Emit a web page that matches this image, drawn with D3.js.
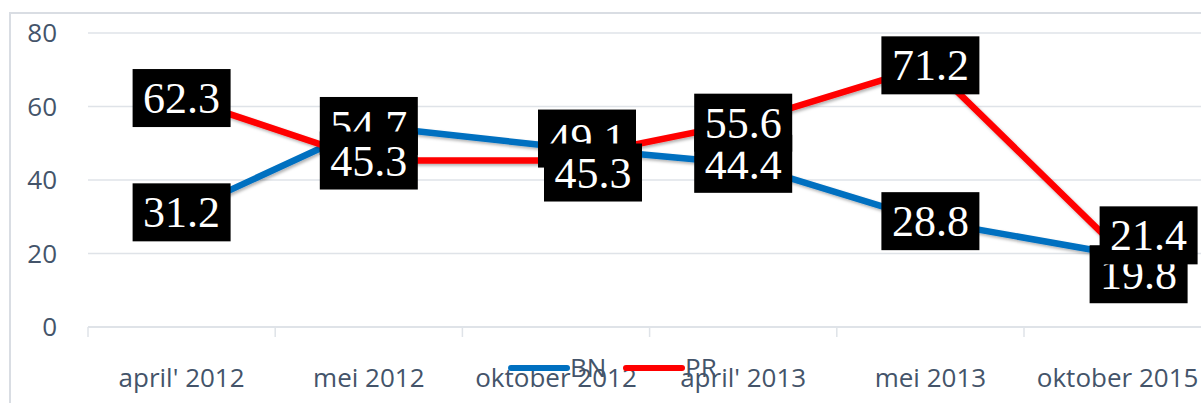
<!DOCTYPE html>
<html>
<head>
<meta charset="utf-8">
<script src="https://cdn.jsdelivr.net/npm/d3@7"></script>
<style>
  body { margin: 0; background: #fff; }
  svg { display: block; }
</style>
</head>
<body>
<svg id="chart" width="1201" height="403"></svg>
<script>
const categories = ["april' 2012", "mei 2012", "oktober 2012", "april' 2013", "mei 2013", "oktober 2015"];
const bnValues = [31.2, 54.7, 49.1, 44.4, 28.8, 19.8];
const prValues = [62.3, 45.3, 45.3, 55.6, 71.2, 21.4];
const yTicks = [0, 20, 40, 60, 80];

const series = [
  { name: "BN", values: bnValues, color: "#0070c0" },
  { name: "PR", values: prValues, color: "#ff0000" }
];

// labels that were dragged by hand in the original
const labelNudge = {
  "BN-2": [31, -8], "PR-2": [37, 12],
  "BN-5": [21, 20], "PR-5": [31, -13]
};

const svg = d3.select("#chart");
const textColor = "#44546a";
const gridColor = "#dfe3e8";

const x = d3.scaleBand().domain(categories).range([88, 88 + 6 * 187.2]);
const y = d3.scaleLinear().domain([0, 80]).range([327, 33]);

const defs = svg.append("defs");
defs.append("filter")
  .attr("id", "shadow")
  .attr("x", "-10%").attr("y", "-10%").attr("width", "120%").attr("height", "120%")
  .append("feDropShadow")
  .attr("dx", 1.5).attr("dy", 2)
  .attr("stdDeviation", 1.5)
  .attr("flood-color", "#000")
  .attr("flood-opacity", 0.3);

// outer chart border
svg.append("rect")
  .attr("x", 10).attr("y", 13)
  .attr("width", 1220).attr("height", 420)
  .attr("fill", "none")
  .attr("stroke", "#d9dde3")
  .attr("stroke-width", 2);

// gridlines
svg.append("g")
  .selectAll("line")
  .data(yTicks.filter((t) => t > 0))
  .enter()
  .append("line")
  .attr("x1", 88).attr("x2", 1201)
  .attr("y1", (t) => y(t)).attr("y2", (t) => y(t))
  .attr("stroke", gridColor)
  .attr("stroke-width", 1.5);

// y tick labels
svg.append("g")
  .selectAll("text")
  .data(yTicks)
  .enter()
  .append("text")
  .attr("x", 57)
  .attr("y", (t) => y(t) + 9)
  .attr("text-anchor", "end")
  .attr("font-family", "'Open Sans', sans-serif")
  .attr("font-size", 26)
  .attr("fill", textColor)
  .text((t) => t);

// x axis with ticks between categories
const xAxis = svg.append("g")
  .attr("transform", "translate(0," + y(0) + ")")
  .call(d3.axisBottom(x).tickSize(0).tickFormat(""));
xAxis.select(".domain").remove();
xAxis.append("line")
  .attr("x1", 88).attr("x2", 1201)
  .attr("stroke", gridColor).attr("stroke-width", 2);
xAxis.selectAll(".sep")
  .data(categories)
  .enter()
  .append("line")
  .attr("class", "sep")
  .attr("x1", (c) => x(c)).attr("x2", (c) => x(c))
  .attr("y1", 0).attr("y2", 10)
  .attr("stroke", gridColor).attr("stroke-width", 1.5);

svg.append("g")
  .selectAll("text")
  .data(categories)
  .enter()
  .append("text")
  .attr("x", (c) => x(c) + x.bandwidth() / 2)
  .attr("y", 387)
  .attr("text-anchor", "middle")
  .attr("font-family", "'Open Sans', sans-serif")
  .attr("font-size", 26)
  .attr("fill", textColor)
  .text((c) => c);

// lines
const line = d3.line()
  .x((d, i) => x(categories[i]) + x.bandwidth() / 2)
  .y((d) => y(d));

series.forEach((s) => {
  svg.append("path")
    .datum(s.values)
    .attr("d", line)
    .attr("fill", "none")
    .attr("stroke", s.color)
    .attr("stroke-width", 6.5)
    .attr("stroke-linejoin", "round")
    .attr("filter", "url(#shadow)");
});

// data labels
series.forEach((s) => {
  const g = svg.append("g");
  s.values.forEach((v, i) => {
    const nudge = labelNudge[s.name + "-" + i] || [0, 0];
    const cx = x(categories[i]) + x.bandwidth() / 2 + nudge[0];
    const cy = y(v) + nudge[1];
    const lab = g.append("g").attr("transform", "translate(" + cx + "," + cy + ")");
    const box = lab.append("rect").attr("fill", "#000");
    const t = lab.append("text")
      .attr("x", 0).attr("y", 15)
      .attr("text-anchor", "middle")
      .attr("font-family", "'Liberation Serif', serif")
      .attr("font-size", 44)
      .attr("fill", "#fff")
      .text(v.toFixed(1));
    const w = t.node().getComputedTextLength() + 21;
    box.attr("x", -w / 2).attr("y", -29).attr("width", w).attr("height", 58);
  });
});

// legend
const legend = svg.append("g");
const legendItems = [
  { s: series[0], x1: 511, x2: 567, tx: 570 },
  { s: series[1], x1: 626, x2: 682, tx: 685 }
];
legendItems.forEach((it) => {
  legend.append("line")
    .attr("x1", it.x1).attr("x2", it.x2)
    .attr("y1", 368).attr("y2", 368)
    .attr("stroke", it.s.color)
    .attr("stroke-width", 6)
    .attr("stroke-linecap", "round");
  legend.append("text")
    .attr("x", it.tx).attr("y", 377)
    .attr("font-family", "'Open Sans', sans-serif")
    .attr("font-size", 26)
    .attr("fill", textColor)
    .text(it.s.name);
});
</script>
</body>
</html>
